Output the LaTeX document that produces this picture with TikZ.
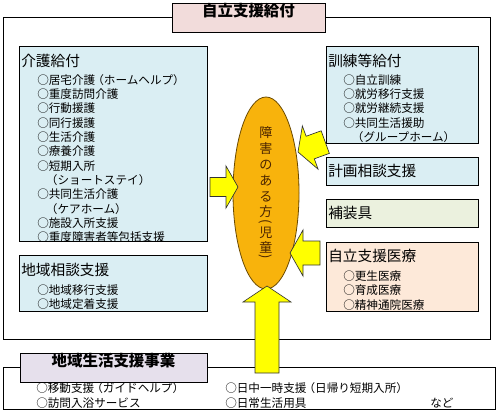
\documentclass[tikz,border=0pt]{standalone}
\usepackage{fontspec}
\setmainfont{Noto Sans CJK JP}
\usetikzlibrary{positioning, shapes.geometric, fit}
\definecolor{kyufubg}{HTML}{F2DCDB}
\definecolor{chiikibg}{HTML}{E6E0EC}
\definecolor{bluebg}{HTML}{DAEEF3}
\definecolor{greenbg}{HTML}{EBF1DE}
\definecolor{peachbg}{HTML}{FDE9D9}
\definecolor{orangefill}{HTML}{F8B30C}
\definecolor{orangeline}{HTML}{6B4A00}
\definecolor{personink}{HTML}{4A2400}
\definecolor{yarrowfill}{HTML}{FFFF00}
% fullwidth brackets, a little tighter
\newcommand{\lpar}{\kern-0.25em（}
\newcommand{\rpar}{）\kern-0.25em}
\tikzset{
  frame/.style={draw=black, line width=0.6pt, inner sep=0pt},
  panel/.style={draw=black, line width=0.6pt, inner sep=0pt},
  headbox/.style={draw=black, line width=0.6pt, inner sep=0pt,
                  font=\fontsize{11.6pt}{13pt}\selectfont\bfseries},
  boxtitle/.style={anchor=west, inner sep=0pt, font=\fontsize{11pt}{12pt}\selectfont},
  item/.style={anchor=west, inner sep=0pt, font=\fontsize{8.7pt}{10pt}\selectfont},
  person/.style={ellipse, draw=orangeline, line width=0.6pt, fill=orangefill,
                 minimum width=49.5pt, minimum height=144pt, inner sep=0pt},
  persontext/.style={inner sep=0pt, text=personink, font=\fontsize{9.8pt}{11pt}\selectfont},
  yarrow/.style={draw=black!80, line width=0.5pt, fill=yarrowfill, line join=miter},
}

\begin{document}
\begin{tikzpicture}[x=0.75pt, y=-0.75pt]
  \useasboundingbox (0,0) rectangle (498,414);
  % outer frames
  \node[frame, fit={(3,17) (490,339)}] (kyufu) {};
  \node[frame, fit={(3,367) (495,409)}] (chiiki) {};
  \node[headbox, fill=kyufubg, fit={(172,3) (325,32)}] (kyufu-head) {自立支援給付};
  \node[headbox, fill=chiikibg, fit={(20,353) (207,382)}] (chiiki-head) {地域生活支援事業};
  % service boxes
  \node[panel, fill=bluebg, fit={(19,46) (207,241)}] (kaigo) {};
  \node[panel, fill=bluebg, fit={(19,255) (207,311)}] (soudan) {};
  \node[panel, fill=bluebg, fit={(326,46) (478,143)}] (kunren) {};
  \node[panel, fill=bluebg, fit={(326,157) (478,185)}] (keikaku) {};
  \node[panel, fill=greenbg, fit={(326,199) (478,227)}] (hosougu) {};
  \node[panel, fill=peachbg, fit={(326,242) (478,311)}] (iryou) {};
  % box titles
  \node[boxtitle] (kaigo-t) at (21,61) {介護給付};
  \node[boxtitle] (soudan-t) at (21,270) {地域相談支援};
  \node[boxtitle] (kunren-t) at (328,61) {訓練等給付};
  \node[boxtitle] (keikaku-t) at (328,171) {計画相談支援};
  \node[boxtitle] (hosougu-t) at (328,213) {補装具};
  \node[boxtitle] (iryou-t) at (328,256) {自立支援医療};
  % item lists
  \foreach \t [count=\i] in {○居宅介護\lpar ホームヘルプ\rpar, ○重度訪問介護, ○行動援護,
      ○同行援護, ○生活介護, ○療養介護, ○短期入所, 　\lpar ショートステイ\rpar,
      ○共同生活介護, 　\lpar ケアホーム\rpar, ○施設入所支援, ○重度障害者等包括支援}
    \node[item] (kaigo-\i) at (37,{80+(\i-1)*14.3}) {\t};
  \foreach \t [count=\i] in {○地域移行支援, ○地域定着支援}
    \node[item] (soudan-\i) at (37,{290+(\i-1)*14.3}) {\t};
  \foreach \t [count=\i] in {○自立訓練, ○就労移行支援, ○就労継続支援,
      ○共同生活援助, 　\lpar グループホーム\rpar}
    \node[item] (kunren-\i) at (343,{80+(\i-1)*14.3}) {\t};
  \foreach \t [count=\i] in {○更生医療, ○育成医療, ○精神通院医療}
    \node[item] (iryou-\i) at (343,{276+(\i-1)*14.3}) {\t};
  % community services
  \node[item] (chiiki-1) at (36,388) {○移動支援\lpar ガイドヘルプ\rpar};
  \node[item] (chiiki-2) at (36,403) {○訪問入浴サービス};
  \node[item] (chiiki-3) at (225,388) {○日中一時支援\lpar 日帰り短期入所\rpar};
  \node[item] (chiiki-4) at (225,403) {○日常生活用具};
  \node[item] (chiiki-etc) at (430,403) {など};
  % the person in the middle, written top to bottom
  \node[person] (person) at (266,193) {};
  \foreach \c/\y [count=\i] in {障/133, 害/149, の/165, あ/181, る/197, 方/212, 児/233, 童/247}
    \node[persontext] (person-\i) at (266,\y) {\c};
  \node[persontext, rotate=-90] (person-lp) at (266,222) {(};
  \node[persontext, rotate=-90] (person-rp) at (266,257) {)};
  % block arrows into the person
  \draw[yarrow, shift={(238,187)}] (0,0) -- (-12,21) -- (-12,9.5) -- (-28,9.5)
        -- (-28,-9.5) -- (-12,-9.5) -- (-12,-21) -- cycle;
  \draw[yarrow, shift={(298,152)}, rotate=200] (0,0) -- (-13,23) -- (-13,12) -- (-29,12)
        -- (-29,-12) -- (-13,-12) -- (-13,-23) -- cycle;
  \draw[yarrow, shift={(290,253)}, rotate=180] (0,0) -- (-13,23) -- (-13,12) -- (-30,12)
        -- (-30,-12) -- (-13,-12) -- (-13,-23) -- cycle;
  \draw[yarrow, shift={(267,286)}, rotate=90] (0,0) -- (-16,24) -- (-16,12) -- (-87,12)
        -- (-87,-12) -- (-16,-12) -- (-16,-24) -- cycle;
\end{tikzpicture}
\end{document}
